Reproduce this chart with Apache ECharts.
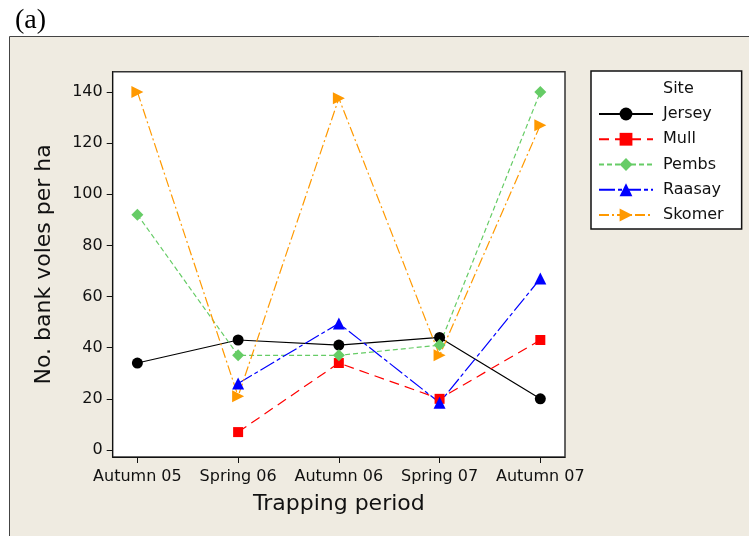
<!DOCTYPE html>
<html>
<head>
<meta charset="utf-8">
<script src="https://cdn.jsdelivr.net/npm/echarts@6/dist/echarts.min.js"></script>
<style>
html,body{margin:0;padding:0;background:#fff;}
#c{width:749px;height:536px;}
</style>
</head>
<body>
<div id="c"></div>
<script>
const categories = ['Autumn 05', 'Spring 06', 'Autumn 06', 'Spring 07', 'Autumn 07'];
const yTicks = [0, 20, 40, 60, 80, 100, 120, 140];
const jersey = [34, 43, 41, 44, 20];
const mull   = [null, 7, 34, 20, 43];
const pembs  = [92, 37, 37, 41, 140];
const raasay = [null, 26, 49.5, 18.5, 67];
const skomer = [140, 21, 137.5, 37, 127];

function pts(arr) {
  const out = [];
  arr.forEach((v, i) => { if (v !== null) out.push([i, v]); });
  return out;
}

const FONT = 'DejaVu Sans';
const chart = echarts.init(document.getElementById('c'), null, {renderer: 'canvas'});

function mk(name, data, color, dash, symbol, size, rotate) {
  return {
    name: name, type: 'line', data: pts(data),
    symbol: symbol, symbolSize: size, symbolRotate: rotate || 0,
    showSymbol: true,
    lineStyle: {color: color, width: 1.2, type: dash},
    itemStyle: {color: color},
    emphasis: {disabled: true},
    animation: false
  };
}

chart.setOption({
  animation: false,
  graphic: [{
    type: 'rect', z: -100, silent: true,
    shape: {x: 9.5, y: 36.5, width: 760, height: 520},
    style: {fill: '#EFEBE1', stroke: '#444', lineWidth: 1}
  }],
  title: [
    {text: '(a)', left: 10, top: 2, textStyle: {fontFamily: 'Liberation Serif', fontSize: 28, fontWeight: 'normal', color: '#000'}},
    {text: 'Site', left: 663, top: 81, padding: 0, textStyle: {fontFamily: FONT, fontSize: 16, fontWeight: 'normal', color: '#111'}, z: 10}
  ],
  grid: {
    left: 112.7, top: 71.7, width: 452.3, height: 385.3,
    show: true, backgroundColor: '#fff', borderColor: '#333', borderWidth: 1.5,
    containLabel: false
  },
  legend: {
    orient: 'vertical', left: 591, top: 71,
    padding: [35, 18, 6, 7],
    itemWidth: 54, itemHeight: 16, itemGap: 9.25,
    backgroundColor: '#fff', borderColor: '#111', borderWidth: 1.5,
    textStyle: {fontFamily: FONT, fontSize: 16, color: '#111', padding: [0, 0, 0, 5]},
    data: ['Jersey', 'Mull', 'Pembs', 'Raasay', 'Skomer'],
    selectedMode: false
  },
  xAxis: {
    type: 'value', min: -0.245, max: 4.245,
    name: 'Trapping period', nameLocation: 'middle', nameGap: 36,
    nameTextStyle: {fontFamily: FONT, fontSize: 22, color: '#111'},
    axisLine: {show: true, onZero: false, lineStyle: {color: '#111', width: 1}},
    axisTick: {show: true, length: 6, customValues: [0, 1, 2, 3, 4], lineStyle: {color: '#111'}},
    axisLabel: {customValues: [0, 1, 2, 3, 4], formatter: v => categories[v], fontFamily: FONT, fontSize: 16, color: '#111', margin: 12},
    splitLine: {show: false}
  },
  yAxis: {
    type: 'value', min: -2.74, max: 147.9,
    name: 'No. bank voles per ha', nameLocation: 'middle', nameGap: 57,
    nameTextStyle: {fontFamily: FONT, fontSize: 22, color: '#111'},
    axisLine: {show: true, onZero: false, lineStyle: {color: '#111', width: 1}},
    axisTick: {show: true, length: 6, customValues: yTicks, lineStyle: {color: '#111'}},
    axisLabel: {customValues: yTicks, fontFamily: FONT, fontSize: 16, color: '#111', margin: 10},
    splitLine: {show: false}
  },
  series: [
    mk('Jersey', jersey, '#000000', 'solid', 'circle', 11),
    mk('Mull', mull, '#FF0000', [10, 6], 'rect', 10),
    mk('Pembs', pembs, '#66CC66', [5, 3], 'diamond', 12),
    mk('Raasay', raasay, '#0000FF', [16, 3, 4, 3], 'triangle', 12),
    mk('Skomer', skomer, '#FF9900', [10, 3, 2, 3], 'triangle', 12, -90)
  ]
});
</script>
</body>
</html>
